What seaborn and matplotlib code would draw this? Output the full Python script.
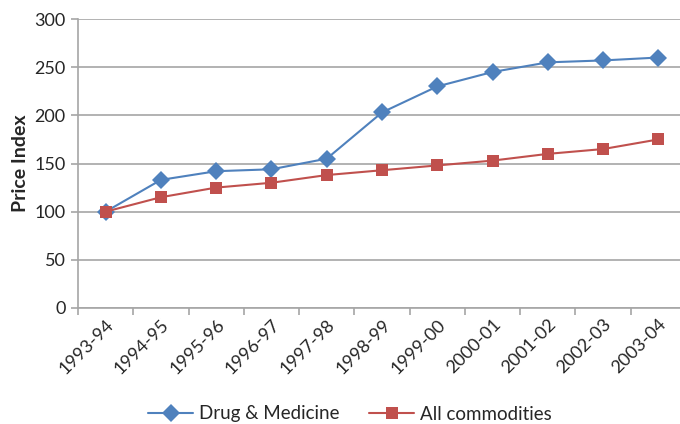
import pandas as pd
import seaborn as sns
import matplotlib.pyplot as plt
from matplotlib.ticker import FixedLocator

# data
years = ["1993-94", "1994-95", "1995-96", "1996-97", "1997-98", "1998-99",
         "1999-00", "2000-01", "2001-02", "2002-03", "2003-04"]
drug_medicine = [100, 133, 142, 144, 155, 203, 230, 245, 255, 257, 260]
all_commodities = [100, 115, 125, 130, 138, 143, 148, 153, 160, 165, 175]
series_names = ["Drug & Medicine", "All commodities"]

df = pd.DataFrame({
    "year": years * 2,
    "value": drug_medicine + all_commodities,
    "series": [series_names[0]] * len(years) + [series_names[1]] * len(years),
})

sns.set_style("white")
plt.rcParams["font.family"] = ["Lato", "DejaVu Sans"]

fig = plt.figure(figsize=(6.8, 4.24), dpi=100)
ax = fig.add_axes([78 / 680, 1 - 308 / 424, 608 / 680, 289 / 424])

sns.lineplot(data=df, x="year", y="value", hue="series", style="series",
             palette=["#4F81BD", "#C0504D"], markers=["D", "s"], dashes=False,
             markersize=9, linewidth=1.5, markeredgewidth=0, sort=False, ax=ax)

ax.set_ylim(0, 300)
ax.set_xlim(-0.5, len(years) - 0.5)
ax.set_yticks(range(0, 301, 50))
ax.yaxis.grid(True, color="#A6A6A6", linewidth=1.2)
ax.set_axisbelow(True)

for s in ["top", "right"]:
    ax.spines[s].set_visible(False)
for s in ["left", "bottom"]:
    ax.spines[s].set_color("#A6A6A6")
    ax.spines[s].set_linewidth(1.2)

ax.tick_params(axis="y", left=True, length=5, width=1.2, color="#A6A6A6",
               labelsize=13, pad=4)
ax.tick_params(axis="x", which="major", length=0, labelsize=13, pad=6)
ax.xaxis.set_minor_locator(FixedLocator([i - 0.5 for i in range(len(years) + 1)]))
ax.tick_params(axis="x", which="minor", bottom=True, length=5, width=1.2,
               color="#A6A6A6")
ax.set_xticks(range(len(years)))
ax.set_xticklabels(years, rotation=45, ha="right", rotation_mode="anchor")

ax.set_xlabel("")
ax.set_ylabel("Price Index", fontsize=14, fontweight="bold", labelpad=4)

handles, labels = ax.get_legend_handles_labels()
ax.legend_.remove()
fig.legend(handles, labels, loc="center", bbox_to_anchor=(350 / 680, 1 - 414 / 424),
           ncol=2, frameon=False, fontsize=13.5, handlelength=2.4,
           columnspacing=1.6, handletextpad=0.3)

fig.savefig("out.png", dpi=100)
